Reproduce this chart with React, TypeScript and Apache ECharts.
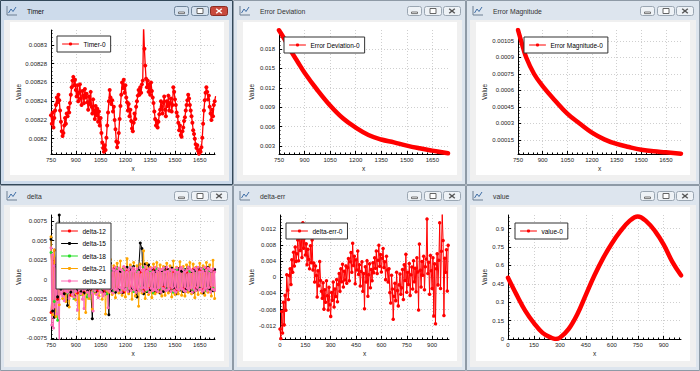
import React, { useEffect, useRef } from "react";
import * as echarts from "echarts";

const FONT = "'Liberation Sans', Arial, Helvetica, sans-serif";

// ---------- DATA ----------
const timerStartX = 750;
const timerStepX = 5;
const timerValues = [
  0.008225, 0.008216, 0.008228, 0.008212, 0.008222,
  0.00823, 0.008236, 0.008244, 0.008239, 0.008247, 0.008241,
  0.00823, 0.008218, 0.008208, 0.008203, 0.008206,
  0.008214, 0.008222, 0.008216, 0.008227, 0.008224, 0.008233, 0.008228,
  0.008238, 0.008247, 0.008255, 0.008262, 0.008266, 0.008257, 0.008263,
  0.008252, 0.008245, 0.008257, 0.00824, 0.008249, 0.008258, 0.008243, 0.008236, 0.008251, 0.008246, 0.008238, 0.008253, 0.008244, 0.008248,
  0.008239, 0.008231, 0.008245, 0.008237, 0.00825, 0.008234, 0.008227, 0.008242, 0.00823, 0.008221, 0.008235, 0.008225,
  0.008232, 0.008218, 0.008229, 0.008214, 0.008222,
  0.008206, 0.008196, 0.00819, 0.008186, 0.008193, 0.008188, 0.008201,
  0.008214, 0.008228, 0.00824, 0.008252, 0.008244, 0.008237,
  0.008241, 0.008229, 0.008234, 0.00822, 0.00821,
  0.008197, 0.008191, 0.008196, 0.008206,
  0.008221, 0.008235, 0.008247, 0.00826, 0.008254, 0.008263, 0.008249, 0.008257, 0.008244,
  0.008239, 0.00823, 0.008237, 0.008224, 0.008231, 0.008219, 0.008211, 0.008208, 0.008217, 0.008227, 0.008221, 0.008234,
  0.00824, 0.008246, 0.008252, 0.008247, 0.008255, 0.008249, 0.008258, 0.008262,
  0.00832, 0.008296, 0.008278,
  0.008264, 0.008255, 0.008262, 0.00825, 0.008258, 0.008247, 0.00826, 0.008251, 0.008244, 0.008238,
  0.008229, 0.008221, 0.008214, 0.008219, 0.008212, 0.008218, 0.008226, 0.008231,
  0.00824, 0.008234, 0.008227, 0.008238, 0.008245, 0.008231, 0.008224, 0.00824, 0.008235, 0.008246, 0.00823, 0.008238, 0.008243, 0.008229, 0.008236, 0.008255,
  0.00825, 0.008242, 0.008236, 0.008228,
  0.008224, 0.008217, 0.008209, 0.008214, 0.008204, 0.008202, 0.008208, 0.008212, 0.008219, 0.008223, 0.00823, 0.008236,
  0.008241, 0.008247, 0.008243, 0.008236, 0.00823, 0.008224,
  0.008217, 0.008209, 0.008205, 0.0082, 0.008194, 0.00819, 0.008193, 0.008187, 0.008184, 0.008188,
  0.008186, 0.008191, 0.008201, 0.008216, 0.00823, 0.008241, 0.008249,
  0.008255, 0.00825, 0.008242, 0.008246, 0.008234, 0.008227,
  0.00822, 0.008231, 0.008224, 0.008236, 0.00824, 0.008245,
];

const errDevX = [750, 783, 818, 860, 900, 975, 1050, 1125, 1200, 1275, 1350, 1425, 1500, 1575, 1650, 1742];
const errDevValues = [0.0209, 0.0195, 0.0178, 0.016, 0.01434, 0.01166, 0.00926, 0.00728, 0.00584, 0.0047, 0.004, 0.00355, 0.00305, 0.00264, 0.00228, 0.00187];

const errMagX = [750, 775, 800, 848, 900, 975, 1050, 1125, 1200, 1275, 1350, 1425, 1500, 1575, 1650, 1742];
const errMagValues = [0.00115, 0.00102, 0.0009, 0.00075, 0.00064, 0.00051, 0.00039, 0.0003, 0.000217, 0.000156, 0.000114, 0.000086, 0.000062, 0.000047, 0.000038, 0.000026];

const deltaStartX = 750;
const delta12Step = 20;
const delta12Values = [
  -0.0042, 0.0038, -0.0025, 0.0021, -0.0018, 0.0016, -0.002, 0.0015, -0.0017, 0.0013,
  -0.0016, 0.0014, -0.0012, 0.0017, -0.0014, 0.0012, -0.0015, 0.0013, -0.0011, 0.0014,
  -0.0013, 0.0012, -0.0016, 0.0011, -0.0012, 0.0015, -0.0013, 0.001, -0.0014, 0.0012,
  -0.0011, 0.0013, -0.0015, 0.0012, -0.001, 0.0014, -0.0012, 0.0011, -0.0013, 0.0015,
  -0.0012, 0.001, -0.0014, 0.0013, -0.0011, 0.0012, -0.0013, 0.0014, -0.001, 0.0012,
];
const delta15Step = 10;
const delta15Values = [
  0.0052, -0.004, -0.0048, 0.0018, -0.0022, 0.0083, -0.0012, 0.0015, -0.0018, 0.0011,
  -0.0033, 0.0014, -0.0016, 0.0012, -0.0021, 0.0016, -0.0013, 0.0018, -0.0015, 0.0011,
  -0.0017, 0.0013, -0.0014, 0.0016, -0.0012, -0.005, 0.0015, -0.0016, 0.0012, -0.0011,
  0.0014, -0.0015, 0.0013, -0.0018, 0.0011, -0.0045, 0.0021, -0.0014, 0.0012, -0.0016,
  0.0015, -0.0013, 0.0011, -0.0017, 0.0014, -0.0012, 0.0016, -0.0015, 0.0013, -0.0011,
  0.0017, -0.0014, -0.0022, 0.0012, 0.0047, 0.004, -0.0018, 0.002, -0.0015, 0.0019,
  -0.0013, 0.0014, -0.0016, 0.0011, -0.0014, 0.0013, -0.0017, 0.0012, -0.0015, 0.0016,
  -0.0012, 0.0013, -0.0014, 0.0015, -0.0011, 0.0012, -0.0018, 0.0014, -0.0013, 0.0011,
  -0.0015, 0.0013, -0.0012, 0.0016, -0.0014, 0.0011, -0.0016, 0.0012, -0.0013, 0.0015,
  -0.0011, 0.0014, -0.0017, 0.0012, -0.0013, 0.0016, -0.0012, 0.0011, -0.0014, 0.0013,
];
const delta18Step = 20;
const delta18Values = [
  0.0035, -0.0028, -0.0052, 0.0022, 0.0018, -0.0017, 0.0021, -0.0024, 0.0016, -0.0019,
  0.0014, -0.0022, 0.0017, -0.0015, 0.0019, -0.0013, 0.0016, -0.0018, 0.0012, -0.0014,
  0.0015, -0.0016, 0.0013, -0.0012, 0.0017, -0.0015, 0.0011, -0.0013, 0.0016, -0.0014,
  0.0012, -0.0017, 0.0014, -0.0011, 0.0015, -0.0013, 0.0012, -0.0016, 0.0013, -0.0012,
  0.0014, -0.0015, 0.0011, -0.0013, 0.0016, -0.0012, 0.0013, -0.0014, 0.0012, -0.0011,
];
const delta21Step = 10;
const delta21Values = [
  0.0055, -0.0045, 0.0038, -0.0047, 0.0021, -0.0032, 0.0026, -0.0024, 0.0019, -0.0028,
  0.0022, -0.0035, 0.0018, -0.0021, 0.0025, -0.0026, 0.0017, -0.005, 0.0023, -0.0019,
  0.0021, -0.0042, 0.0016, -0.0024, 0.0019, -0.0038, 0.0022, -0.0018, 0.0024, -0.0021,
  0.0017, -0.0025, 0.0023, -0.0044, 0.002, -0.0016, 0.0026, -0.0019, 0.0018, -0.0023,
  0.0021, -0.0017, 0.0024, -0.002, 0.0016, -0.0022, 0.0027, -0.0018, 0.0019, -0.0025,
  0.0022, -0.0021, 0.0018, -0.0034, 0.002, -0.0017, 0.0037, -0.0024, 0.0021, -0.0019,
  0.0016, -0.0023, 0.002, -0.0018, 0.0022, -0.0016, 0.0019, -0.0021, 0.0017, -0.002,
  0.0021, -0.0017, 0.0018, -0.0022, 0.0024, -0.0019, 0.0016, -0.0018, 0.0023, -0.002,
  0.0017, -0.0021, 0.0019, -0.0016, 0.0022, -0.0018, 0.002, -0.0023, 0.0016, -0.0019,
  0.0021, -0.0017, 0.0018, -0.002, 0.0022, -0.0016, 0.0019, -0.0021, 0.0025, -0.0024,
];
const delta24Step = 5;
const delta24Values = [
  0.0041, -0.0058, 0.0032, -0.0062, 0.0018, -0.0035, 0.0027, -0.0044, 0.0015, -0.0029,
  -0.0078, 0.0022, -0.0018, 0.0026, -0.0021, 0.0012, -0.0027, 0.0019, -0.0014, 0.0023,
  -0.0016, 0.0011, -0.0024, 0.0017, -0.0012, 0.0021, -0.0019, 0.0014, -0.0022, 0.0018,
  -0.0015, 0.0012, -0.0039, 0.0016, -0.0013, 0.0022, -0.0018, 0.0011, -0.0025, 0.0015,
  -0.0037, 0.0019, -0.0012, 0.0024, -0.0016, 0.0013, -0.0021, 0.0018, -0.0011, 0.0022,
  -0.0017, -0.004, 0.0016, -0.0014, 0.0021, -0.0019, 0.0012, -0.0023, 0.0017, -0.0013,
  0.0019, -0.0016, 0.0014, -0.0021, 0.0011, -0.0018, 0.0023, -0.0012, 0.0016, -0.0036,
  0.0013, -0.0015, 0.0018, -0.0011, 0.0014, -0.0017, 0.0012, -0.0013, 0.0016, -0.0012,
  0.0011, -0.0014, 0.0015, -0.001, 0.0013, -0.0016, 0.0012, -0.0011, 0.0017, -0.0013,
  0.0014, -0.0012, 0.001, -0.0015, 0.0013, -0.0011, 0.0016, -0.0014, 0.0012, -0.001,
  0.0015, -0.0013, 0.0011, -0.0016, 0.0014, -0.0012, 0.001, -0.0014, 0.0016, -0.0011,
  0.0012, -0.0015, 0.0013, -0.001, 0.0017, -0.0013, 0.0011, -0.0012, 0.0014, -0.0016,
  0.0013, -0.0011, 0.0015, -0.0014, 0.001, -0.0012, 0.0016, -0.0013, 0.0011, -0.0015,
  0.0014, -0.001, 0.0012, -0.0016, 0.0013, -0.0011, 0.0015, -0.0012, 0.001, -0.0014,
  0.0016, -0.0013, 0.0011, -0.0012, 0.0014, -0.0015, 0.0012, -0.001, 0.0013, -0.0014,
  0.0011, -0.0016, 0.0015, -0.0012, 0.001, -0.0013, 0.0014, -0.0011, 0.0016, -0.0012,
  0.0013, -0.0014, 0.001, -0.0015, 0.0012, -0.0011, 0.0016, -0.0013, 0.0014, -0.001,
  0.0012, -0.0016, 0.0011, -0.0012, 0.0015, -0.0014, 0.0013, -0.001, 0.0016, -0.0013,
  0.001, -0.0012, 0.0014, -0.0015, 0.0011, -0.0013, 0.0016, -0.0011, 0.0012, -0.0014,
  0.0015, -0.001, 0.0013, -0.0016, 0.0011, -0.0012, 0.0014, -0.0013, 0.001, -0.0015,
];

const deltaErrStartX = 0;
const deltaErrStep = 5;
const deltaErrValues = [
  -0.0128, -0.0152, -0.0085, -0.0138, -0.0062, -0.0118,
  -0.0045, -0.0082, 0.0006, -0.0032, -0.0055, 0.0004,
  0.0021, -0.0018, 0.0043, 0.0012, 0.0062, 0.0028, 0.0075, 0.0039,
  0.0058, 0.0092, 0.0041, 0.0105, 0.0066, 0.0118, 0.0049, 0.0135, 0.0072, 0.0098,
  0.0055, 0.0083, 0.0031, 0.0069, 0.0044, 0.0021, 0.0078, 0.0036, 0.0092, 0.0018,
  0.0035, -0.0012, 0.0028, 0.0004, -0.0049, 0.0016, -0.0021, 0.0039, -0.0008, -0.0035,
  -0.0052, -0.0014, -0.0079, -0.0031, -0.0062, -0.0009, -0.0046, -0.0081, -0.0025, -0.0068, -0.0097, -0.0038, -0.0057, -0.0012, -0.0074, -0.0029,
  -0.0048, -0.0006, -0.0061, -0.0018, 0.0009, -0.0035, 0.0021, -0.0011, 0.0032, -0.0024, 0.0015, -0.0007, 0.0028, -0.0015,
  0.0024, 0.0046, -0.0009, 0.0038, 0.0061, 0.0012, 0.0084, 0.0029, 0.0052, -0.0016, 0.0043, 0.0018, 0.0065, 0.0007,
  0.0031, -0.0022, 0.0014, 0.0038, -0.0035, 0.0009, -0.0078, 0.0026, -0.0012, 0.0041, -0.0047, 0.0006, 0.0033, -0.0026, 0.0019, -0.0009, 0.0036, 0.0011,
  0.0048, 0.0022, 0.0065, 0.0009, 0.0042, 0.0079, 0.0027, 0.0056, 0.0013, 0.0047, 0.0071, 0.0024, 0.0038, -0.0006, 0.0052, 0.0018,
  -0.0012, 0.0021, -0.0038, -0.0064, 0.0005, -0.0029, -0.0104, -0.0047, -0.0015, -0.0058, 0.0012, -0.0033, -0.0071, -0.0019, 0.0008, -0.0042,
  -0.0026, 0.0019, -0.0055, 0.0031, -0.0008, 0.0057, -0.0037, 0.0012, -0.0018, 0.0034, -0.0045, 0.0006, 0.0025, -0.0029, 0.0041, -0.0011,
  0.0022, -0.0036, 0.0048, 0.0013, -0.0081, 0.0082, 0.0017, -0.0024, 0.0039, 0.0005, 0.0052, -0.0031, 0.0026, 0.0045, 0.0144, 0.0009,
  0.0037, -0.0042, 0.0054, 0.0016, -0.0028, 0.0048, -0.0096, 0.0033, -0.0115, 0.0021, 0.0058, -0.0019,
  0.0042, 0.0135, -0.0028, 0.0064, 0.0156, 0.0091, -0.0095, 0.0047, 0.0012, 0.0068, -0.0034, 0.0079,
];

const valueX = [0, 50, 100, 150, 200, 250, 275, 300, 350, 400, 450, 500, 550, 600, 650, 700, 750, 800, 850, 900, 950, 1000];
const valueValues = [0.5, 0.36, 0.23, 0.13, 0.05, 0.01, 0.0, 0.01, 0.08, 0.2, 0.36, 0.52, 0.66, 0.78, 0.88, 0.96, 1.0, 0.96, 0.88, 0.77, 0.63, 0.52];

// tick labels
const xTicksA = [750, 900, 1050, 1200, 1350, 1500, 1650];
const xTicksB = [0, 150, 300, 450, 600, 750, 900];
const timerTicksY = [0.0082, 0.00822, 0.00824, 0.00826, 0.00828, 0.0083];
const errDevTicksY = [0.003, 0.006, 0.009, 0.012, 0.015, 0.018];
const errMagTicksY = [0.00015, 0.0003, 0.00045, 0.0006, 0.00075, 0.0009, 0.00105];
const deltaTicksY = [-0.0075, -0.005, -0.0025, 0, 0.0025, 0.005, 0.0075];
const deltaErrTicksY = [-0.012, -0.008, -0.004, 0, 0.004, 0.008, 0.012];
const valueTicksY = [0, 0.15, 0.3, 0.45, 0.6, 0.75, 0.9];

// ---------- LAYOUT ----------
const windows = [
  { title: "Timer", x: 0, y: 0, w: 233, h: 185, active: true, grid: [51, 30, 164, 124], xr: [750, 1742], yr: [0.0081837, 0.008316], xt: xTicksA, yt: timerTicksY, legend: [57, 36] },
  { title: "Error Deviation", x: 233, y: 0, w: 233, h: 185, active: false, grid: [279, 30, 169, 124], xr: [750, 1742], yr: [0.00176, 0.02094], xt: xTicksA, yt: errDevTicksY, legend: [284, 37] },
  { title: "Error Magnitude", x: 466, y: 0, w: 234, h: 185, active: false, grid: [518, 30, 163, 124], xr: [750, 1742], yr: [0.0000227, 0.00115], xt: xTicksA, yt: errMagTicksY, legend: [524, 37] },
  { title: "delta", x: 0, y: 185, w: 233, h: 186, active: false, grid: [51, 215, 164, 124], xr: [750, 1742], yr: [-0.0076, 0.0083], xt: xTicksA, yt: deltaTicksY, legend: [56, 223] },
  { title: "delta-err", x: 233, y: 185, w: 233, h: 186, active: false, grid: [280, 215, 169, 124], xr: [0, 1000], yr: [-0.0153, 0.0154], xt: xTicksB, yt: deltaErrTicksY, legend: [286, 223] },
  { title: "value", x: 466, y: 185, w: 234, h: 186, active: false, grid: [508, 215, 173, 124], xr: [0, 1000], yr: [0, 1.012], xt: xTicksB, yt: valueTicksY, legend: [515, 223] },
];

const seriesDefs = [
  { win: 0, name: "Timer-0", color: "#ff0000", data: timerValues.map((v, i) => [timerStartX + i * timerStepX, v]), width: 1.3, size: 4 },
  { win: 1, name: "Error Deviation-0", color: "#ff0000", data: errDevX.map((x, i) => [x, errDevValues[i]]), width: 4.5, size: 0 },
  { win: 2, name: "Error Magnitude-0", color: "#ff0000", data: errMagX.map((x, i) => [x, errMagValues[i]]), width: 4.5, size: 0 },
  { win: 3, name: "delta-12", color: "#ff0000", data: delta12Values.map((v, i) => [deltaStartX + i * delta12Step, v]), width: 1, size: 3 },
  { win: 3, name: "delta-15", color: "#000000", data: delta15Values.map((v, i) => [deltaStartX + i * delta15Step, v]), width: 1, size: 3 },
  { win: 3, name: "delta-18", color: "#22dd22", data: delta18Values.map((v, i) => [deltaStartX + i * delta18Step, v]), width: 1, size: 3 },
  { win: 3, name: "delta-21", color: "#ffa500", data: delta21Values.map((v, i) => [deltaStartX + i * delta21Step, v]), width: 1, size: 3 },
  { win: 3, name: "delta-24", color: "#ff69b4", data: delta24Values.map((v, i) => [deltaStartX + i * delta24Step, v]), width: 1, size: 3 },
  { win: 4, name: "delta-err-0", color: "#ff0000", data: deltaErrValues.map((v, i) => [deltaErrStartX + i * deltaErrStep, v]), width: 1, size: 3.5 },
  { win: 5, name: "value-0", color: "#ff0000", data: valueX.map((x, i) => [x, valueValues[i]]), width: 4.5, size: 0 },
];

function fmt(v: any) {
  return String(parseFloat(Number(v).toPrecision(6)));
}

function minorValues(ticks: number[], min: number, max: number) {
  const step = (ticks[1] - ticks[0]) / 5;
  const out: number[] = [];
  for (let k = -5; k <= ticks.length * 5 + 5; k++) {
    if (k % 5 === 0) continue;
    const v = ticks[0] + k * step;
    if (v > min && v < max) out.push(v);
  }
  return out;
}

function makeAxes(dim: "x" | "y", gridIndex: number, min: number, max: number, ticks: number[]) {
  const common: any = { type: "value", gridIndex, min, max, position: dim === "x" ? "bottom" : "left", offset: 0 };
  const main = {
    ...common,
    axisLine: { show: true, onZero: false, lineStyle: { color: "#000", width: 1 } },
    axisTick: { show: true, inside: true, length: 3, customValues: ticks, lineStyle: { color: "#000", width: 1 } },
    axisLabel: { show: true, customValues: ticks, formatter: fmt, fontSize: 6, color: "#222", margin: dim === "x" ? 3 : 4, fontFamily: FONT },
    splitLine: { show: true, lineStyle: { color: "#cfcfcf", width: 1, type: [1, 2] } },
    minorTick: { show: false },
    minorSplitLine: { show: false },
  };
  const minor = {
    ...common,
    axisLine: { show: false, onZero: false },
    axisTick: { show: true, inside: true, length: 1.5, customValues: minorValues(ticks, min, max), lineStyle: { color: "#000", width: 1 } },
    axisLabel: { show: false },
    splitLine: { show: false },
    minorTick: { show: false },
  };
  return [main, minor];
}

function windowGraphics(win: any) {
  const { x, y, w, h, title, active } = win;
  const frameFill = active ? "#cddbeb" : "#dde5ee";
  const border = active ? "#34495a" : "#8e9aa6";
  const els: any[] = [
    { type: "rect", z: -5, shape: { x: x + 0.5, y: y + 0.5, width: w - 1, height: h - 1 }, style: { fill: frameFill, stroke: border, lineWidth: 1 } },
    { type: "rect", z: -5, z2: 1, shape: { x: x + 4, y: y + 20, width: w - 8, height: h - 24 }, style: { fill: "#f0f0f0" } },
    { type: "rect", z: -5, z2: 2, shape: { x: x + 10, y: y + 22, width: 214, height: h - 32 }, style: { fill: "#ffffff" } },
    {
      type: "text", z: 1, x: x + 27, y: y + 11,
      style: { text: title, fontSize: 6.8, fontFamily: FONT, fill: active ? "#111" : "#333", textAlign: "left", textVerticalAlign: "middle", align: "left", verticalAlign: "middle" },
    },
    // icon
    { type: "polyline", z: 1, shape: { points: [[x + 7, y + 6], [x + 7, y + 15], [x + 17, y + 15]] }, style: { stroke: "#6c7f92", lineWidth: 1, fill: null } },
    { type: "polyline", z: 1, shape: { points: [[x + 8.5, y + 13], [x + 11, y + 9], [x + 13, y + 11.5], [x + 16, y + 7]] }, style: { stroke: "#3f6ea6", lineWidth: 1, fill: null } },
  ];
  const btns = [[174, 15], [191, 18], [210, 18]];
  btns.forEach(([bx, bw], k) => {
    const isClose = k === 2;
    const fill = active ? (isClose ? "#c8493c" : "#d6e2ef") : "#eef2f6";
    const stroke = active ? (isClose ? "#8b2b22" : "#6f849a") : "#9aa6b2";
    const gx = x + bx;
    const gy = y + 6;
    els.push({ type: "rect", z: 1, shape: { x: gx + 0.5, y: gy + 0.5, width: bw - 1, height: 9, r: 2 }, style: { fill, stroke, lineWidth: 1 } });
    const cx = gx + bw / 2;
    const cy = gy + 5;
    const glyph = active && isClose ? "#ffffff" : "#555";
    if (k === 0) {
      els.push({ type: "rect", z: 1, shape: { x: cx - 3, y: cy + 1, width: 6, height: 1.6 }, style: { fill: "#ffffff", stroke: glyph, lineWidth: 0.8 } });
    } else if (k === 1) {
      els.push({ type: "rect", z: 1, shape: { x: cx - 3, y: cy - 2.5, width: 6, height: 5 }, style: { fill: "#ffffff", stroke: glyph, lineWidth: 0.9 } });
    } else {
      els.push({ type: "line", z: 1, shape: { x1: cx - 2.8, y1: cy - 2.3, x2: cx + 2.8, y2: cy + 2.3 }, style: { stroke: glyph, lineWidth: 1.4 } });
      els.push({ type: "line", z: 1, shape: { x1: cx - 2.8, y1: cy + 2.3, x2: cx + 2.8, y2: cy - 2.3 }, style: { stroke: glyph, lineWidth: 1.4 } });
    }
  });
  const [gl, gt, gw, gh] = win.grid;
  els.push({
    type: "text", z: 1, x: x + 18.5, y: gt + gh / 2, rotation: Math.PI / 2,
    style: { text: "Value", fontSize: 6.5, fontFamily: FONT, fill: "#222", textAlign: "center", textVerticalAlign: "middle", align: "center", verticalAlign: "middle" },
  });
  els.push({
    type: "text", z: 1, x: gl + gw / 2, y: y + 168,
    style: { text: "x", fontSize: 6.5, fontFamily: FONT, fill: "#222", textAlign: "center", textVerticalAlign: "middle", align: "center", verticalAlign: "middle" },
  });
  return els;
}

function buildOption() {
  const grid: any[] = [];
  const xAxis: any[] = [];
  const yAxis: any[] = [];
  const legend: any[] = [];
  const elements: any[] = [];
  windows.forEach((win, i) => {
    const [l, t, w, h] = win.grid;
    grid.push({ left: l, top: t, width: w, height: h, containLabel: false, outerBoundsMode: "none", show: false });
    xAxis.push(...makeAxes("x", i, win.xr[0], win.xr[1], win.xt));
    yAxis.push(...makeAxes("y", i, win.yr[0], win.yr[1], win.yt));
    legend.push({
      data: seriesDefs.filter((s) => s.win === i).map((s) => s.name),
      left: win.legend[0],
      top: win.legend[1],
      orient: "vertical",
      padding: [4.5, 5, 4.5, 5],
      itemWidth: 16,
      itemHeight: 4,
      itemGap: 5.5,
      backgroundColor: "#ffffff",
      borderColor: "#333",
      borderWidth: 1,
      borderRadius: 0,
      selectedMode: false,
      textStyle: { fontSize: 6.5, color: "#000", fontFamily: FONT },
      lineStyle: { width: 1 },
    });
    elements.push(...windowGraphics(win));
  });
  const series = seriesDefs.map((s) => ({
    name: s.name,
    type: "line",
    xAxisIndex: s.win * 2,
    yAxisIndex: s.win * 2,
    data: s.data,
    symbol: "circle",
    symbolSize: s.size > 0 ? s.size : 3,
    showSymbol: s.size > 0,
    smooth: s.size > 0 ? false : 0.4,
    lineStyle: { color: s.color, width: s.width, cap: "round", join: "round" },
    itemStyle: { color: s.color },
    emphasis: { disabled: true },
    animation: false,
  }));
  return {
    animation: false,
    backgroundColor: "#ffffff",
    textStyle: { fontFamily: FONT },
    grid,
    xAxis,
    yAxis,
    legend,
    series,
    graphic: { elements },
  };
}

export default function App() {
  const ref = useRef<HTMLDivElement>(null);
  useEffect(() => {
    document.body.style.margin = "0";
    const chart = echarts.init(ref.current as HTMLDivElement, null, { renderer: "svg", width: 700, height: 371 });
    chart.setOption(buildOption() as any);
    return () => chart.dispose();
  }, []);
  return <div ref={ref} style={{ width: 700, height: 371 }} />;
}
